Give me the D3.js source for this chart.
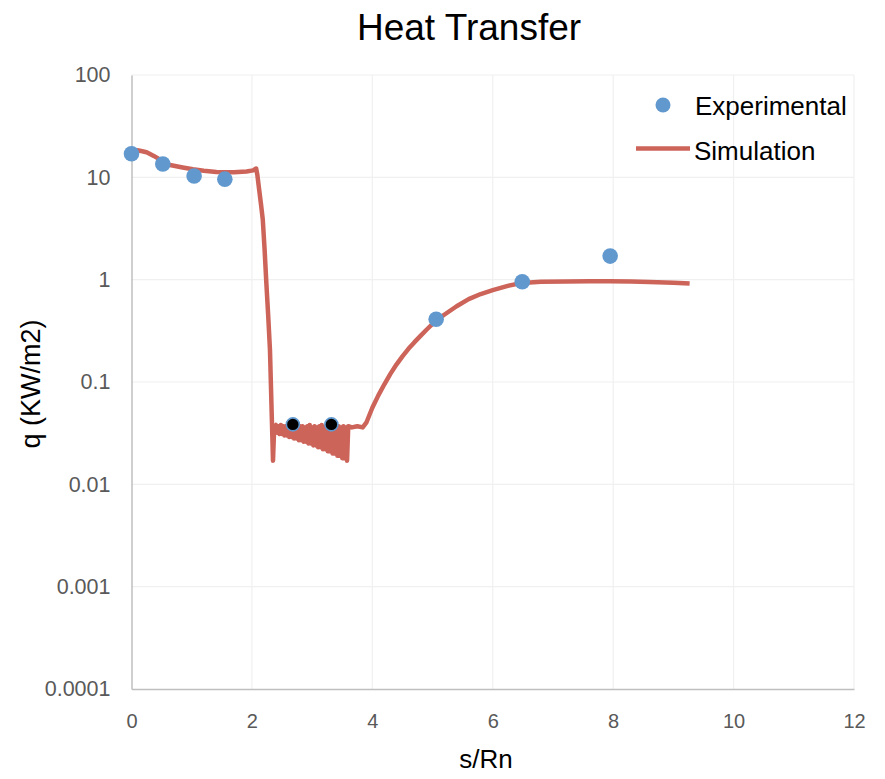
<!DOCTYPE html>
<html lang="en">
<head>
    <meta charset="UTF-8">
    <script src="https://d3js.org/d3.v7.min.js"></script>
    <title>Heat Transfer</title>
    <style>
        body { margin: 0; background: #fff; }
        text { font-family: "Liberation Sans", Arial, sans-serif; }
    </style>
</head>
<body>
    <svg id="svg1" width="885" height="779"></svg>

    <script>
        // experimental points
        const expX = [0, 0.52, 1.04, 1.55, 5.06, 6.49, 7.95];
        const expQ = [17, 13.5, 10.3, 9.6, 0.41, 0.955, 1.7];

        // the two low experimental points (drawn black)
        const lowX = [2.68, 3.32];
        const lowQ = [0.0385, 0.0385];

        // simulation: plateau and drop
        const headX = [0.02, 0.10, 0.18, 0.25, 0.30, 0.37, 0.44, 0.54, 0.64, 0.85, 1.02, 1.20, 1.41, 1.70, 1.91, 2.02, 2.07,
                       2.09, 2.12, 2.15, 2.18, 2.21, 2.24, 2.27, 2.30, 2.33, 2.35, 2.37];
        const headQ = [18.5, 18.4, 18.0, 17.6, 17.0, 16.2, 15.3, 14.2, 13.2, 12.5, 12.0, 11.6, 11.3, 11.2, 11.4, 11.7, 12.2,
                       10.6, 7.6, 5.5, 3.9, 2.0, 0.92, 0.45, 0.205, 0.046, 0.017, 0.036];

        // simulation: oscillating band
        const bandX = [2.40, 2.42, 2.44, 2.46, 2.48, 2.50, 2.52, 2.54, 2.56, 2.58,
                       2.60, 2.62, 2.64, 2.66, 2.68, 2.70, 2.72, 2.74, 2.76, 2.78,
                       2.80, 2.82, 2.84, 2.86, 2.88, 2.90, 2.92, 2.94, 2.96, 2.98,
                       3.00, 3.02, 3.04, 3.06, 3.08, 3.10, 3.12, 3.14, 3.16, 3.18,
                       3.20, 3.22, 3.24, 3.26, 3.28, 3.30, 3.32, 3.34, 3.36, 3.38,
                       3.40, 3.42, 3.44, 3.46, 3.48, 3.50, 3.52, 3.54, 3.56, 3.58, 3.60];
        const bandQ = [0.038, 0.032, 0.037, 0.031, 0.038, 0.031, 0.037, 0.030, 0.037, 0.030,
                       0.038, 0.029, 0.036, 0.029, 0.037, 0.028, 0.038, 0.028, 0.036, 0.027,
                       0.037, 0.027, 0.037, 0.026, 0.036, 0.026, 0.037, 0.025, 0.038, 0.025,
                       0.036, 0.024, 0.037, 0.024, 0.036, 0.023, 0.037, 0.023, 0.038, 0.022,
                       0.036, 0.022, 0.037, 0.021, 0.036, 0.021, 0.037, 0.020, 0.037, 0.020,
                       0.036, 0.019, 0.037, 0.019, 0.036, 0.018, 0.037, 0.018, 0.036, 0.017, 0.037];

        // simulation: recovery
        const tailX = [3.66, 3.75, 3.84, 3.90, 4.00, 4.10, 4.20, 4.30, 4.40, 4.50, 4.60,
                       4.70, 4.80, 4.90, 5.06, 5.20, 5.40, 5.60, 5.80, 6.00, 6.25, 6.49, 6.80,
                       7.22, 7.60, 7.94, 8.30, 8.60, 9.00, 9.27];
        const tailQ = [0.036, 0.037, 0.036, 0.040, 0.056, 0.074, 0.095, 0.12, 0.148, 0.178, 0.211,
                       0.245, 0.282, 0.324, 0.40, 0.457, 0.55, 0.645, 0.724, 0.79, 0.87, 0.93, 0.955,
                       0.96, 0.965, 0.965, 0.96, 0.95, 0.935, 0.915];

        const xTicks = [0, 2, 4, 6, 8, 10, 12];
        const yTicks = [0.0001, 0.001, 0.01, 0.1, 1, 10, 100];
        const yTickLabels = ["0.0001", "0.001", "0.01", "0.1", "1", "10", "100"];

        const svg1 = d3.select("svg#svg1");
        const margin = {top: 75, left: 131.5};
        const chartWidth = 722.5;
        const chartHeight = 614;

        const blue = "#6199cf";
        const red = "#cd645a";

        const xScale = d3.scaleLinear().domain([0, 12]).range([0, chartWidth]);
        const yScale = d3.scaleLog().domain([0.0001, 100]).range([chartHeight, 0]);

        const chartArea = svg1.append("g")
            .attr("transform", `translate(${margin.left},${margin.top})`);

        // gridlines
        chartArea.append("g")
            .selectAll("line")
            .data(xTicks.slice(1))
            .join("line")
            .attr("x1", d => xScale(d)).attr("x2", d => xScale(d))
            .attr("y1", 0).attr("y2", chartHeight)
            .attr("stroke", "#f0f0f0").attr("stroke-width", 1.2);

        chartArea.append("g")
            .selectAll("line")
            .data(yTicks.slice(1))
            .join("line")
            .attr("x1", 0).attr("x2", chartWidth)
            .attr("y1", d => yScale(d)).attr("y2", d => yScale(d))
            .attr("stroke", "#f0f0f0").attr("stroke-width", 1.2);

        // axes
        let bottomAxis = d3.axisBottom(xScale).tickValues(xTicks).tickSize(0).tickPadding(25);
        let gx = chartArea.append("g")
            .attr("transform", `translate(0,${chartHeight})`)
            .call(bottomAxis);
        gx.select(".domain").attr("stroke", "#bfbfbf").attr("stroke-width", 1.5);
        gx.selectAll(".tick text")
            .attr("fill", "#595959")
            .style("font-family", "'Liberation Sans', Arial, sans-serif")
            .style("font-size", "20px");

        let leftAxis = d3.axisLeft(yScale).tickValues(yTicks)
            .tickFormat((d, i) => yTickLabels[i]).tickSize(0).tickPadding(21);
        let gy = chartArea.append("g").call(leftAxis);
        gy.select(".domain").attr("stroke", "#bfbfbf").attr("stroke-width", 1.5);
        gy.selectAll(".tick text")
            .attr("fill", "#595959")
            .style("font-family", "'Liberation Sans', Arial, sans-serif")
            .style("font-size", "21.5px");

        // simulation line
        const simX = headX.concat(bandX, tailX);
        const simQ = headQ.concat(bandQ, tailQ);
        const simData = simX.map((x, i) => ({x: x, q: simQ[i]}));
        const lineGen = d3.line()
            .x(d => xScale(d.x))
            .y(d => yScale(d.q));

        chartArea.append("path")
            .datum(simData)
            .attr("fill", "none")
            .attr("stroke", red)
            .attr("stroke-width", 4.5)
            .attr("stroke-linejoin", "round")
            .attr("d", lineGen);

        // experimental points
        expX.forEach((x, i) => {
            chartArea.append("circle")
                .attr("r", 7.8)
                .attr("fill", blue)
                .attr("cx", xScale(x))
                .attr("cy", yScale(expQ[i]));
        });

        lowX.forEach((x, i) => {
            chartArea.append("circle")
                .attr("r", 6.5)
                .attr("fill", "#000")
                .attr("stroke", blue)
                .attr("stroke-width", 1.6)
                .attr("cx", xScale(x))
                .attr("cy", yScale(lowQ[i]));
        });

        // legend
        svg1.append("circle")
            .attr("r", 7.5).attr("fill", blue)
            .attr("cx", 663).attr("cy", 105);
        svg1.append("text")
            .attr("x", 695).attr("y", 106)
            .attr("dy", "0.35em")
            .style("font-size", "26px")
            .text("Experimental");

        svg1.append("line")
            .attr("x1", 636).attr("x2", 690)
            .attr("y1", 148.5).attr("y2", 148.5)
            .attr("stroke", red).attr("stroke-width", 4.5);
        svg1.append("text")
            .attr("x", 694).attr("y", 151)
            .attr("dy", "0.35em")
            .style("font-size", "26px")
            .text("Simulation");

        // titles
        svg1.append("text")
            .attr("x", 469).attr("y", 27)
            .attr("dy", "0.35em")
            .style("text-anchor", "middle")
            .style("font-size", "37px")
            .text("Heat Transfer");

        svg1.append("text")
            .attr("transform", "translate(31,384) rotate(-90)")
            .attr("dy", "0.35em")
            .style("text-anchor", "middle")
            .style("font-size", "27px")
            .text("q (KW/m2)");

        svg1.append("text")
            .attr("x", 486).attr("y", 759)
            .attr("dy", "0.35em")
            .style("text-anchor", "middle")
            .style("font-size", "26px")
            .text("s/Rn");
    </script>
</body>
</html>
